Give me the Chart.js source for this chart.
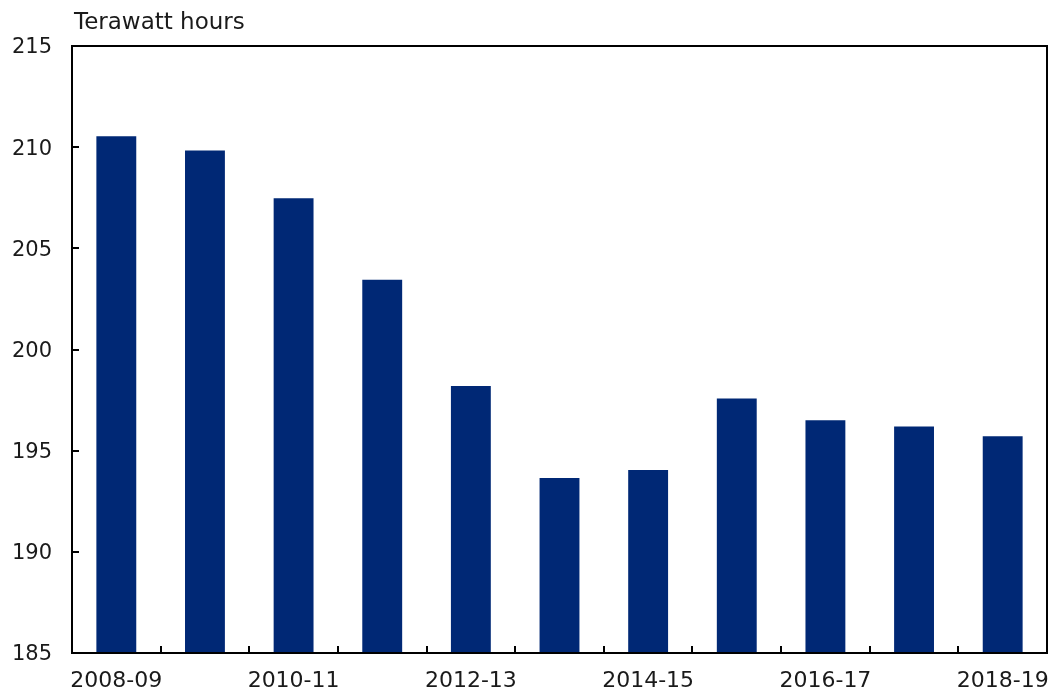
<!DOCTYPE html>
<html>
<head>
<meta charset="utf-8">
<script src="https://cdn.jsdelivr.net/npm/chart.js@4.4.0/dist/chart.umd.min.js"></script>
<style>
  html, body { margin: 0; padding: 0; background: #fff; }
  #wrap { width: 1055px; height: 690px; position: relative; }
</style>
</head>
<body>
<div id="wrap"><canvas id="c-energy"></canvas></div>
<script>
const years = ["2008-09", "2009-10", "2010-11", "2011-12", "2012-13", "2013-14",
  "2014-15", "2015-16", "2016-17", "2017-18", "2018-19"];
const consumption = [210.54, 209.84, 207.47, 203.45, 198.19, 193.65, 194.04, 197.58, 196.5, 196.2, 195.71];
const yTicks = [185, 190, 195, 200, 205, 210, 215];
const unitLabel = "Terawatt hours";

const textColor = "#1a1a1a";
const fontFamily = "'DejaVu Sans', Verdana, sans-serif";

// frame, inward ticks and the unit label
const framePlugin = {
  id: "frame",
  afterDraw(chart) {
    const { ctx, chartArea: a, scales } = chart;
    ctx.save();
    ctx.strokeStyle = "#000";
    ctx.lineWidth = 2;
    ctx.strokeRect(a.left, a.top, a.right - a.left, a.bottom - a.top);

    ctx.beginPath();
    yTicks.forEach((v) => {
      const y = Math.round(scales.y.getPixelForValue(v));
      ctx.moveTo(a.left, y);
      ctx.lineTo(a.left + 7, y);
    });
    for (let i = 1; i < years.length; i += 1) {
      const x = Math.round((scales.x.getPixelForValue(i - 1) + scales.x.getPixelForValue(i)) / 2);
      ctx.moveTo(x, a.bottom);
      ctx.lineTo(x, a.bottom - 7);
    }
    ctx.stroke();

    ctx.fillStyle = textColor;
    ctx.font = "23px " + fontFamily;
    ctx.textAlign = "left";
    ctx.textBaseline = "alphabetic";
    ctx.fillText(unitLabel, a.left + 2, 29);
    ctx.restore();
  }
};

new Chart(document.getElementById("c-energy"), {
  type: "bar",
  data: {
    labels: years,
    datasets: [{
      data: consumption,
      backgroundColor: "#002875",
      borderWidth: 0,
      barPercentage: 0.45,
      categoryPercentage: 1
    }]
  },
  options: {
    responsive: true,
    maintainAspectRatio: false,
    animation: false,
    layout: { padding: { top: 46, right: 8, left: 0, bottom: 0 } },
    plugins: { legend: { display: false }, tooltip: { enabled: false } },
    scales: {
      x: {
        grid: { display: false, drawTicks: false },
        border: { display: false },
        ticks: {
          color: textColor,
          font: { family: fontFamily, size: 22 },
          autoSkip: false,
          maxRotation: 0,
          padding: 15,
          callback: (value, index) => (index % 2 === 0 ? years[index] : "")
        },
        afterFit: (scale) => {
          scale.height = 37;
          scale.paddingLeft = 0;
          scale.paddingRight = 0;
        }
      },
      y: {
        min: 185,
        max: 215,
        grid: { display: false, drawTicks: false },
        border: { display: false },
        ticks: {
          color: textColor,
          font: { family: fontFamily, size: 21 },
          stepSize: 5,
          padding: 20,
          labelOffset: 2
        },
        afterFit: (scale) => {
          scale.width = 72;
          scale.paddingTop = 0;
          scale.paddingBottom = 0;
        }
      }
    }
  },
  plugins: [framePlugin]
});
</script>
</body>
</html>
